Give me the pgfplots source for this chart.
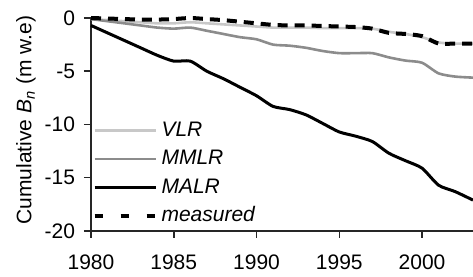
\documentclass[border=0pt]{standalone}
\usepackage{fontspec}
\setmainfont{Liberation Sans}
\usepackage{pgfplots}
\pgfplotsset{compat=1.18}
\usetikzlibrary{calc}
\definecolor{vlr}{HTML}{C8C8C8}
\definecolor{mmlr}{HTML}{8C8C8C}
\newcommand{\fs}{\fontsize{10.5}{12.6}\selectfont}
\begin{document}
\begin{tikzpicture}
\begin{axis}[
  name=ax,
  scale only axis,
  width=191pt, height=106.5pt,
  xmin=1980, xmax=2003.08,
  ymin=-20, ymax=0,
  clip=false,
  axis lines=left,
  axis line style={-, line width=0.75pt, black!85},
  tick style={line width=0.75pt, black!85},
  tick align=outside,
  major tick length=3.5pt,
  xtick={1980,1985,1990,1995,2000},
  ytick={-20,-15,-10,-5,0},
  /pgf/number format/assume math mode=true,
  /pgf/number format/1000 sep={},
  tick label style={font=\fs},
  xticklabel style={yshift=-5pt},
  yticklabel style={xshift=-1pt},
  ylabel={Cumulative \textit{B}\textsubscript{\textit{n}} (m w.e)},
  ylabel style={font=\fs, at={(axis description cs:-0.170,0.521)}, anchor=center, rotate=0},
  legend cell align=left,
  legend style={draw=none, fill=none, font=\fs\itshape,
    at={(axis description cs:0.003,0.541)}, anchor=north west,
    inner sep=0pt, row sep=0pt, column sep=0pt,
    nodes={inner sep=2pt, text height=8pt, text depth=2.25pt}},
  legend image code/.code={\draw[#1] (0pt,0pt) -- (30.5pt,0pt);},
]
\addplot[vlr, line width=1.3pt, smooth, tension=0.4] coordinates {
(1980,-0.1) (1981,-0.2) (1982,-0.3) (1983,-0.4) (1984,-0.5) (1985,-0.5)
(1986,-0.4) (1987,-0.5) (1988,-0.6) (1989,-0.7) (1990,-0.8) (1991,-0.9)
(1992,-0.9) (1993,-0.9) (1994,-0.95) (1995,-0.95) (1996,-0.95) (1997,-1.0)
(1998,-1.3) (1999,-1.5) (2000,-1.8) (2001,-2.3) (2002,-2.4) (2003.08,-2.4)};
\addlegendentry{VLR}
\addplot[mmlr, line width=1.3pt, smooth, tension=0.4] coordinates {
(1980,-0.1) (1981,-0.3) (1982,-0.5) (1983,-0.7) (1984,-0.9) (1985,-1.0)
(1986,-0.9) (1987,-1.2) (1988,-1.5) (1989,-1.8) (1990,-2.0) (1991,-2.5)
(1992,-2.6) (1993,-2.8) (1994,-3.1) (1995,-3.3) (1996,-3.3) (1997,-3.3)
(1998,-3.7) (1999,-4.0) (2000,-4.2) (2001,-5.2) (2002,-5.5) (2003.08,-5.6)};
\addlegendentry{MMLR}
\addplot[black, line width=1.5pt, smooth, tension=0.4] coordinates {
(1980,-0.7) (1981,-1.4) (1982,-2.1) (1983,-2.8) (1984,-3.5) (1985,-4.05)
(1986,-4.05) (1987,-5.0) (1988,-5.7) (1989,-6.5) (1990,-7.3) (1991,-8.3)
(1992,-8.6) (1993,-9.1) (1994,-9.9) (1995,-10.7) (1996,-11.1) (1997,-11.6)
(1998,-12.7) (1999,-13.4) (2000,-14.1) (2001,-15.7) (2002,-16.3) (2003.08,-17.1)};
\addlegendentry{MALR}
\addplot[black, line width=2pt, dash pattern=on 5pt off 3.5pt, smooth, tension=0.4, forget plot] coordinates {
(1980,0) (1981,-0.05) (1982,-0.1) (1983,-0.15) (1984,-0.15) (1985,-0.1)
(1986,0.0) (1987,-0.1) (1988,-0.2) (1989,-0.35) (1990,-0.5) (1991,-0.65)
(1992,-0.7) (1993,-0.7) (1994,-0.75) (1995,-0.8) (1996,-0.85) (1997,-1.0)
(1998,-1.4) (1999,-1.5) (2000,-1.7) (2001,-2.4) (2002,-2.4) (2003.08,-2.4)};
\addlegendimage{black, line width=2pt, dash pattern=on 4pt off 9pt}
\addlegendentry{measured}
\end{axis}
\pgfresetboundingbox
\path ($(ax.south west)+(-45.5pt,-23pt)$) rectangle ($(ax.north east)+(0pt,9pt)$);
\end{tikzpicture}
\end{document}
